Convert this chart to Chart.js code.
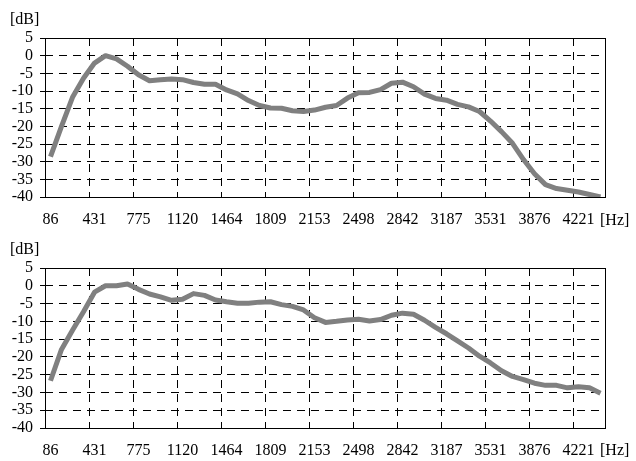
<!DOCTYPE html>
<html>
<head>
<meta charset="utf-8">
<script src="https://cdn.jsdelivr.net/npm/chart.js@4/dist/chart.umd.min.js"></script>
<style>
  body { margin: 0; background: #fff; }
  canvas { position: absolute; left: 0; }
  #chartTop { top: 0; }
  #chartBottom { top: 230px; }
</style>
</head>
<body>
<canvas id="chartTop" width="636" height="230"></canvas>
<canvas id="chartBottom" width="636" height="231"></canvas>
<script>
// frequency bins [Hz]
const freqs = [86, 172, 258, 345, 431, 517, 603, 689, 775, 861, 947, 1034, 1120,
    1206, 1292, 1378, 1464, 1550, 1637, 1723, 1809, 1895, 1981, 2067, 2153, 2239,
    2326, 2412, 2498, 2584, 2670, 2756, 2842, 2929, 3015, 3101, 3187, 3273, 3359,
    3445, 3531, 3618, 3704, 3790, 3876, 3962, 4048, 4134, 4221, 4307, 4393];

// level [dB], upper plot
const levelTop = [-28.6, -20, -11.8, -6.4, -2.1, 0, -0.9, -3, -5.4, -7.1, -6.8,
    -6.6, -6.8, -7.6, -8.1, -8.1, -9.7, -10.8, -12.7, -14.1, -14.8, -14.9, -15.6,
    -15.8, -15.4, -14.6, -14.1, -12, -10.5, -10.4, -9.6, -7.8, -7.5, -8.8, -10.9,
    -12.1, -12.6, -13.8, -14.5, -15.8, -18.5, -21.5, -24.8, -29.4, -33.4, -36.5,
    -37.6, -38.1, -38.6, -39.3, -40];

// level [dB], lower plot
const levelBottom = [-26.7, -17.9, -12.5, -7.3, -1.8, 0, 0, 0.5, -1, -2.3, -3.1,
    -4.1, -3.8, -2.2, -2.7, -4, -4.5, -4.9, -4.9, -4.6, -4.5, -5.3, -5.8, -6.8,
    -9, -10.3, -10, -9.6, -9.4, -9.9, -9.5, -8.3, -7.7, -8, -9.7, -11.7, -13.5,
    -15.5, -17.5, -19.8, -21.7, -23.9, -25.5, -26.4, -27.4, -28, -28, -28.7,
    -28.4, -28.7, -30.2];

const yMin = -40, yMax = 5, yStep = 5;

Chart.defaults.font.family = '"Liberation Serif", "Times New Roman", serif';
Chart.defaults.font.size = 16;
Chart.defaults.color = '#000';

// frame around the plot area and the unit labels
const framePlugin = {
    id: 'frame',
    afterDraw(chart) {
        const ctx = chart.ctx;
        const a = chart.chartArea;
        ctx.save();
        ctx.strokeStyle = '#000';
        ctx.lineWidth = 1;
        ctx.setLineDash([]);
        ctx.strokeRect(Math.round(a.left) + 0.5, Math.round(a.top) + 0.5,
            Math.round(a.right - a.left) - 1, Math.round(a.bottom - a.top));
        ctx.font = Chart.defaults.font.size + 'px ' + Chart.defaults.font.family;
        ctx.fillStyle = '#000';
        ctx.textBaseline = 'middle';
        ctx.textAlign = 'left';
        ctx.fillText('[dB]', 10, 20);
        ctx.fillText('[Hz]', 600, 221);
        ctx.restore();
    }
};

function makeChart(id, values) {
    return new Chart(document.getElementById(id), {
        type: 'line',
        data: {
            labels: freqs,
            datasets: [{
                data: values,
                borderColor: '#808080',
                borderWidth: 5,
                borderJoinStyle: 'round',
                pointRadius: 0,
                tension: 0,
                fill: false
            }]
        },
        options: {
            responsive: false,
            animation: false,
            layout: { padding: { top: 38, right: 30, left: 0, bottom: 0 } },
            plugins: {
                legend: { display: false },
                tooltip: { enabled: false }
            },
            scales: {
                x: {
                    type: 'category',
                    offset: true,
                    grid: {
                        offset: true,
                        drawTicks: false,
                        color: (c) => (c.index !== undefined && c.index % 4 === 0) ? '#000' : 'rgba(0,0,0,0)'
                    },
                    border: { display: false, dash: [8, 6] },
                    ticks: {
                        autoSkip: false,
                        maxRotation: 0,
                        padding: 13,
                        callback: function (val, index) {
                            return index % 4 === 0 ? this.getLabelForValue(val) : '';
                        }
                    },
                    afterFit: (s) => { s.height = 33; }
                },
                y: {
                    min: yMin,
                    max: yMax,
                    grid: { color: '#000', tickLength: 5 },
                    border: { display: false, dash: [8, 6] },
                    ticks: { stepSize: yStep, padding: 7, autoSkip: false },
                    afterFit: (s) => { s.width = 45; }
                }
            }
        },
        plugins: [framePlugin]
    });
}

makeChart('chartTop', levelTop);
makeChart('chartBottom', levelBottom);
</script>
</body>
</html>
